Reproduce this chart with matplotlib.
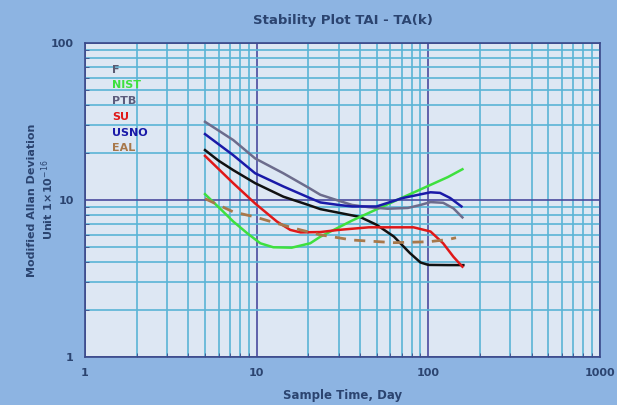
import numpy as np
import matplotlib.pyplot as plt

# sample times (days) and modified Allan deviation, unit 1e-16
t_f = [5, 6, 7.3, 9.8, 14.3, 20, 23.5, 30, 40, 50, 63, 78, 90, 100, 130, 160]
f_vals = [20.8, 17.8, 15.5, 12.8, 10.5, 9.3, 8.75, 8.3, 7.8, 6.95, 5.85, 4.6, 4.0, 3.86, 3.85, 3.85]

t_nist = [5, 6.1, 7.3, 8.8, 10.5, 12.5, 16, 20.5, 23.5, 36, 67, 100, 130, 158]
nist_vals = [10.9, 8.85, 7.3, 6.15, 5.3, 5.0, 4.97, 5.3, 5.84, 7.4, 10.1, 12.3, 14.0, 15.7]

t_ptb = [5, 7.3, 9.8, 14.3, 20, 23.5, 30, 36, 45, 58, 76, 90, 103, 122, 140, 158]
ptb_vals = [31.5, 24.1, 18.4, 14.8, 12.0, 10.8, 9.9, 9.3, 9.0, 8.8, 8.9, 9.3, 9.7, 9.6, 8.85, 7.75]

t_su = [5, 7.3, 9.8, 13.1, 15.7, 18, 23.5, 30, 45, 82, 103, 122, 140, 158]
su_vals = [19.1, 12.8, 9.5, 7.3, 6.45, 6.22, 6.25, 6.45, 6.7, 6.7, 6.3, 5.3, 4.35, 3.76]

t_usno = [5, 7.3, 9.8, 14.3, 20, 23.5, 30, 36, 50, 71, 103, 117, 134, 156]
usno_vals = [26.3, 19.3, 14.8, 12.2, 10.4, 9.65, 9.3, 9.1, 9.1, 10.3, 11.2, 11.1, 10.3, 9.1]

t_eal = [5, 7.3, 9.8, 13.1, 18, 23.5, 36, 63, 100, 130, 145]
eal_vals = [10.2, 8.4, 7.8, 7.1, 6.45, 6.0, 5.56, 5.35, 5.42, 5.6, 5.75]

series = [
    ('F', t_f, f_vals, '#111111', '#5a5a72', '-'),
    ('NIST', t_nist, nist_vals, '#3ee03e', '#3ee03e', '-'),
    ('PTB', t_ptb, ptb_vals, '#6c6c8c', '#5c5c7c', '-'),
    ('SU', t_su, su_vals, '#e01818', '#e01818', '-'),
    ('USNO', t_usno, usno_vals, '#1a1aa8', '#1a1aa8', '-'),
    ('EAL', t_eal, eal_vals, '#a8784a', '#a8784a', '--'),
]

txt = '#2b4470'

fig = plt.figure(figsize=(6.17, 4.05), dpi=100, facecolor='#8db4e2')
ax = fig.add_axes([0.1378, 0.1185, 0.8346, 0.7753])
ax.set_facecolor('#dde7f3')
ax.set_xscale('log')
ax.set_yscale('log')
ax.set_xlim(1, 1000)
ax.set_ylim(1, 100)

ax.grid(True, which='minor', color='#5ab4d6', linewidth=1.2)
ax.grid(True, which='major', color='#4a4a9e', linewidth=1.2)
ax.set_axisbelow(True)

for name, t, v, c, lc, ls in series:
    if ls == '--':
        ax.plot(t, v, color=c, lw=2, ls=(0, (4, 3)))
    else:
        ax.plot(t, v, color=c, lw=1.8)

# legend as coloured text
for i, (name, t, v, c, lc, ls) in enumerate(series):
    ax.text(1.44, 10 ** (1.83 - i * 0.1), name, color=lc, fontsize=8,
            fontweight='bold', va='center')

for s in ax.spines.values():
    s.set_color('#3a4a8a')
    s.set_linewidth(1.2)

ax.tick_params(which='both', direction='in', colors='#3a4a8a', labelcolor=txt,
               labelsize=8)
ax.tick_params(which='major', length=0, pad=8)
ax.tick_params(which='minor', length=3)
ax.set_xticks([1, 10, 100, 1000])
ax.set_xticklabels(['1', '10', '100', '1000'], fontweight='bold')
ax.set_yticks([1, 10, 100])
ax.set_yticklabels(['1', '10', '100'], fontweight='bold')
ax.xaxis.set_minor_formatter(plt.NullFormatter())
ax.yaxis.set_minor_formatter(plt.NullFormatter())

ax.set_title('Stability Plot TAI - TA(k)', color=txt, fontsize=9.5,
             fontweight='bold', pad=14)
ax.set_xlabel('Sample Time, Day', color=txt, fontsize=8.5, fontweight='bold',
              labelpad=8)
ax.set_ylabel('Modified Allan Deviation\nUnit 1×10$^{-16}$', color=txt,
              fontsize=8, fontweight='bold')
ax.yaxis.set_label_coords(-0.056, 0.5)

plt.savefig('out.png', dpi=100, facecolor=fig.get_facecolor())
